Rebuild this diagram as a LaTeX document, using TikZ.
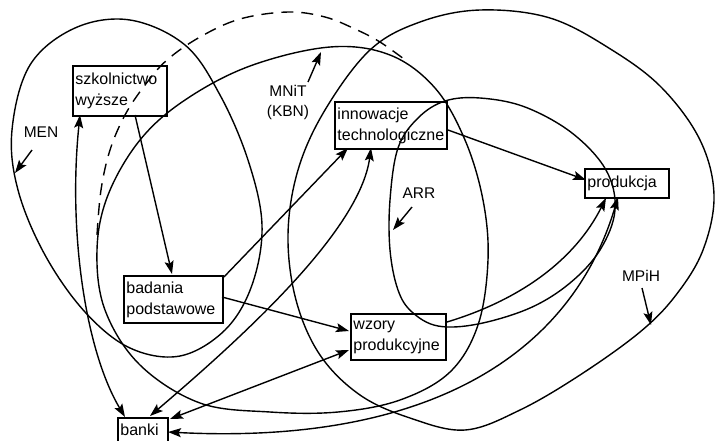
\documentclass[tikz,border=0pt]{standalone}
\usepackage{fontspec}
\setmainfont{Liberation Sans}
\usetikzlibrary{arrows.meta}
\begin{document}
\begin{tikzpicture}[x=1pt,y=-1pt,
  box/.style={draw, line width=1.9pt, anchor=north west, align=left,
    inner xsep=2.5pt, inner ysep=2pt, font=\fontsize{16}{21}\selectfont},
  ring/.style={line width=1.4pt},
  tip/.tip={Stealth[length=13pt,width=9pt,inset=2.5pt]},
  link/.style={line width=1.4pt, -tip},
  dlink/.style={line width=1.4pt, tip-tip},
  lab/.style={font=\fontsize{15.5}{20}\selectfont, align=center, inner sep=0pt},
]
\clip (0,0) rectangle (715,440);
\fill[white] (0,0) rectangle (715,440);

% ministry boundaries
\draw[ring] plot[smooth cycle, tension=0.6] coordinates {
  (130,20) (185,45) (220,95) (248,160) (262,225) (252,285) (225,330)
  (180,356) (130,348) (85,312) (45,255) (18,190) (12,130) (30,65) (75,28)};
\draw[ring] plot[smooth cycle, tension=0.6] coordinates {
  (330,47) (390,55) (435,88) (465,140) (483,200) (488,260) (478,325)
  (450,372) (400,400) (338,412) (270,412) (200,403) (140,365) (105,310)
  (97,250) (108,195) (140,140) (185,100) (250,66)};
\draw[ring] plot[smooth cycle, tension=0.6] coordinates {
  (480,10) (550,18) (612,50) (662,88) (700,140) (714,195) (703,250)
  (676,295) (640,332) (580,375) (520,410) (465,430) (410,418) (360,395)
  (320,355) (296,300) (288,235) (298,170) (325,110) (370,50) (420,22)};
\draw[ring] plot[smooth cycle, tension=0.6] coordinates {
  (480,98) (525,107) (572,133) (606,170) (615,210) (600,250) (570,283)
  (530,308) (478,324) (438,326) (412,312) (398,290) (390,250) (390,200)
  (398,148) (418,118) (445,101)};
\draw[ring, dash pattern=on 12pt off 8pt] plot[smooth, tension=0.6] coordinates {
  (97,235) (101,190) (110,150) (125,115) (145,85) (167,60) (200,37)
  (240,19) (288,12) (325,17) (355,29) (380,42) (408,62)};

% boxes
\node[box, text width=89pt, minimum height=50pt] (szk) at (72,65) {szkolnictwo\\wyższe};
\node[box, text width=107pt, minimum height=47pt] (inn) at (334,101) {innowacje\\technologiczne};
\node[box, text width=79pt, minimum height=29pt] (prod) at (584,168) {produkcja};
\node[box, text width=94pt, minimum height=47pt] (bad) at (123,275) {badania\\podstawowe};
\node[box, text width=90pt, minimum height=46pt] (wz) at (350,313) {wzory\\produkcyjne};
\node[box, text width=45pt, minimum height=24pt] (bank) at (117,417) {banki};

% ministry labels
\node[lab] (men) at (41,132) {MEN};
\node[lab] (mnit) at (288,102) {MNiT\\(KBN)};
\node[lab] (arr) at (419,193) {ARR};
\node[lab] (mpih) at (641,276) {MPiH};
\coordinate (menP) at (15,173);
\coordinate (mnitP) at (321,52);
\coordinate (arrP) at (393,230);
\coordinate (mpihP) at (651,325);
\draw[link] (32,150) -- (menP);
\draw[link] (308,82) -- (mnitP);
\draw[link] (412,207) -- (arrP);
\draw[link] (642,288) -- (mpihP);

% flows
\draw[link] (135,115) -- (172,274);
\draw[link] (bad.north east) ++(0,2) -- (348,148);
\draw[link] (222,297) -- (349,331);
\draw[link] (448,130) -- (586,180);
\draw[link] (447,322) .. controls (520,300) and (575,260) .. (606,198);
\draw[dlink] (80,115) .. controls (68,230) and (85,350) .. (125,417);
\draw[dlink] (150,416) .. controls (245,335) and (360,230) .. (371,148);
\draw[dlink] (170,419) -- (349,350);
\draw[dlink] (168,432) .. controls (420,445) and (570,360) .. (618,197);
\end{tikzpicture}
\end{document}
